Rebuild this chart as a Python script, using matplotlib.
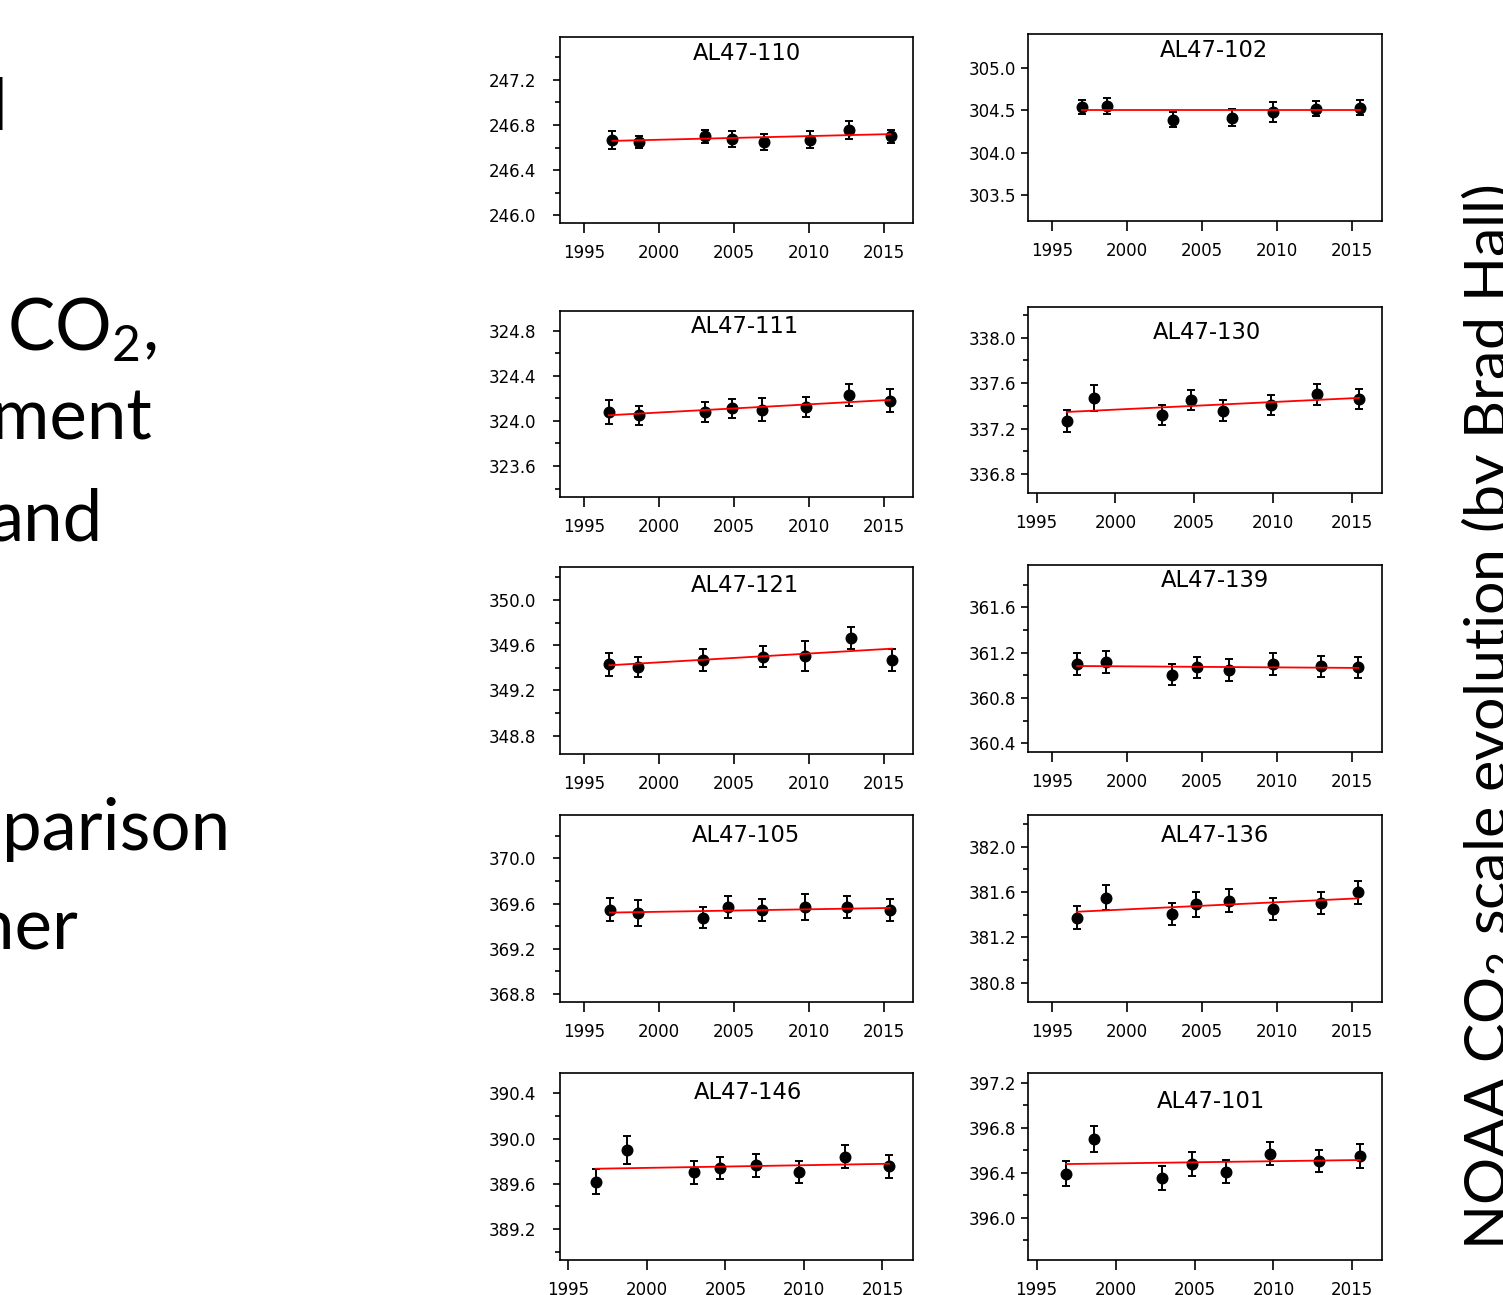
import matplotlib
matplotlib.use("Agg")
import matplotlib.pyplot as plt
from matplotlib.ticker import MultipleLocator, FormatStrFormatter

W, H = 1503, 1295
plt.rcParams["mathtext.fontset"] = "custom"
plt.rcParams["mathtext.rm"] = "Lato"

# ---- data: sample dates, CO2 values, uncertainties, fit line ends ----
names = ["AL47-110", "AL47-102", "AL47-111", "AL47-130", "AL47-121",
         "AL47-139", "AL47-105", "AL47-136", "AL47-146", "AL47-101"]

yr_110 = [1996.9, 1998.7, 2003.1, 2004.9, 2007.0, 2010.1, 2012.7, 2015.45]
co2_110 = [246.67, 246.65, 246.70, 246.68, 246.65, 246.67, 246.76, 246.70]
err_110 = [0.08, 0.05, 0.06, 0.07, 0.075, 0.075, 0.08, 0.06]
fit_110 = [246.66, 246.72]

yr_102 = [1997.0, 1998.7, 2003.1, 2007.0, 2009.75, 2012.6, 2015.5]
co2_102 = [304.54, 304.55, 304.39, 304.41, 304.48, 304.52, 304.53]
err_102 = [0.087, 0.09, 0.085, 0.10, 0.118, 0.088, 0.09]
fit_102 = [304.50, 304.50]

yr_111 = [1996.65, 1998.7, 2003.1, 2004.85, 2006.9, 2009.8, 2012.7, 2015.4]
co2_111 = [324.08, 324.05, 324.08, 324.11, 324.10, 324.12, 324.23, 324.18]
err_111 = [0.106, 0.084, 0.09, 0.083, 0.103, 0.089, 0.096, 0.099]
fit_111 = [324.05, 324.186]

yr_130 = [1996.91, 1998.66, 2002.98, 2004.78, 2006.85, 2009.86, 2012.78, 2015.47]
co2_130 = [337.27, 337.47, 337.32, 337.45, 337.355, 337.41, 337.50, 337.46]
err_130 = [0.097, 0.114, 0.09, 0.088, 0.092, 0.088, 0.091, 0.088]
fit_130 = [337.346, 337.47]

yr_121 = [1996.69, 1998.62, 2002.95, 2006.91, 2009.75, 2012.8, 2015.55]
co2_121 = [349.43, 349.41, 349.47, 349.50, 349.505, 349.665, 349.47]
err_121 = [0.105, 0.09, 0.097, 0.09, 0.133, 0.096, 0.096]
fit_121 = [349.423, 349.57]

yr_139 = [1996.7, 1998.59, 2003.02, 2004.64, 2006.81, 2009.74, 2012.91, 2015.4]
co2_139 = [361.10, 361.12, 361.005, 361.07, 361.045, 361.10, 361.08, 361.07]
err_139 = [0.094, 0.097, 0.093, 0.093, 0.096, 0.093, 0.093, 0.093]
fit_139 = [361.082, 361.065]

yr_105 = [1996.73, 1998.62, 2002.95, 2004.62, 2006.85, 2009.75, 2012.57, 2015.4]
co2_105 = [369.547, 369.517, 369.476, 369.57, 369.547, 369.57, 369.57, 369.54]
err_105 = [0.103, 0.118, 0.096, 0.096, 0.097, 0.112, 0.10, 0.097]
fit_105 = [369.52, 369.561]

yr_136 = [1996.66, 1998.59, 2002.98, 2004.6, 2006.81, 2009.74, 2012.91, 2015.36]
co2_136 = [381.373, 381.55, 381.403, 381.494, 381.523, 381.447, 381.505, 381.597]
err_136 = [0.10, 0.112, 0.096, 0.11, 0.10, 0.096, 0.099, 0.10]
fit_136 = [381.426, 381.544]

yr_146 = [1996.74, 1998.75, 2002.99, 2004.69, 2006.92, 2009.69, 2012.64, 2015.42]
co2_146 = [389.62, 389.90, 389.70, 389.74, 389.762, 389.703, 389.84, 389.753]
err_146 = [0.108, 0.125, 0.102, 0.10, 0.099, 0.099, 0.103, 0.099]
fit_146 = [389.733, 389.777]

yr_101 = [1996.86, 1998.65, 2002.92, 2004.82, 2006.98, 2009.79, 2012.89, 2015.48]
co2_101 = [396.39, 396.70, 396.35, 396.475, 396.41, 396.57, 396.504, 396.55]
err_101 = [0.111, 0.113, 0.108, 0.105, 0.104, 0.10, 0.102, 0.104]
fit_101 = [396.477, 396.513]

years = [yr_110, yr_102, yr_111, yr_130, yr_121, yr_139, yr_105, yr_136, yr_146, yr_101]
values = [co2_110, co2_102, co2_111, co2_130, co2_121, co2_139, co2_105, co2_136, co2_146, co2_101]
errors = [err_110, err_102, err_111, err_130, err_121, err_139, err_105, err_136, err_146, err_101]
fits = [fit_110, fit_102, fit_111, fit_130, fit_121, fit_139, fit_105, fit_136, fit_146, fit_101]

year_ticks = [1995, 2000, 2005, 2010, 2015]

# ---- layout (pixel boxes: x0, y0, x1, y1), axis ranges, title spot ----
boxes = [(560, 37, 913, 223.3), (1028.3, 34, 1381.7, 220.7),
         (560, 310.7, 913, 496.7), (1028.3, 306.7, 1381.7, 492.7),
         (560, 566.7, 913, 754), (1028.3, 565, 1381.7, 751.7),
         (560, 815, 913, 1001.7), (1028.3, 815, 1381.7, 1001.7),
         (560, 1073.3, 913, 1260), (1028.3, 1073.3, 1381.7, 1260)]
xlims = [(1993.4, 2016.95), (1993.44, 2016.96), (1993.4, 2016.95), (1994.47, 2016.9),
         (1993.4, 2016.95), (1993.44, 2016.96), (1993.4, 2016.95), (1993.44, 2016.96),
         (1994.47, 2016.95), (1994.47, 2016.86)]
ylims = [(245.93, 247.58), (303.197, 305.40), (323.328, 324.977), (336.635, 338.273),
         (348.638, 350.295), (360.326, 361.973), (368.732, 370.383), (380.632, 382.28),
         (388.926, 390.577), (395.624, 397.284)]
title_xy = [(0.53, 0.914), (0.525, 0.914), (0.524, 0.914), (0.505, 0.862),
            (0.524, 0.902), (0.527, 0.916), (0.527, 0.888), (0.527, 0.888),
            (0.533, 0.896), (0.518, 0.848)]

fig = plt.figure(figsize=(W / 100, H / 100), dpi=100)

for i, name in enumerate(names):
    x0, y0, x1, y1 = boxes[i]
    ax = fig.add_axes([x0 / W, 1 - y1 / H, (x1 - x0) / W, (y1 - y0) / H])
    yrs, vals, errs, fit = years[i], values[i], errors[i], fits[i]
    ax.errorbar(yrs, vals, yerr=errs, fmt="o", color="black", ms=7.6,
                elinewidth=1.4, capsize=2.6, capthick=1.4, zorder=3)
    ax.plot([yrs[0], yrs[-1]], fit, color="red", lw=1.3, zorder=4)
    ax.set_xlim(*xlims[i])
    ax.set_ylim(*ylims[i])
    ax.set_xticks(year_ticks)
    if name == "AL47-102":
        ax.yaxis.set_major_locator(MultipleLocator(0.5))
    else:
        ax.yaxis.set_major_locator(MultipleLocator(0.4))
        ax.yaxis.set_minor_locator(MultipleLocator(0.2))
    ax.yaxis.set_major_formatter(FormatStrFormatter("%.1f"))
    left_col = (i % 2 == 0)
    ax.tick_params(axis="x", direction="out", length=7, width=1.2, pad=8,
                   labelsize=12)
    ax.tick_params(axis="y", which="major", direction="out", length=5, width=1.2,
                   pad=12 if left_col else 3.5, labelsize=12)
    ax.tick_params(axis="y", which="minor", direction="out", length=3.5, width=1.2)
    for s in ax.spines.values():
        s.set_linewidth(1.2)
    ax.text(title_xy[i][0], title_xy[i][1], name, transform=ax.transAxes,
            ha="center", va="center", fontsize=16.3)

# ---- slide text around the chart block ----
slide_font = "Lato"
fs = 51
fig.text(8 / W, 1 - 130 / H, "l", ha="right", va="baseline",
         fontsize=fs, family=slide_font)
fig.text(157 / W, 1 - 350 / H, r" CO$_\mathregular{2}$,", ha="right", va="baseline",
         fontsize=fs, family=slide_font)
fig.text(152 / W, 1 - 440 / H, "ment", ha="right", va="baseline",
         fontsize=fs, family=slide_font)
fig.text(103 / W, 1 - 540 / H, "and", ha="right", va="baseline",
         fontsize=fs, family=slide_font)
fig.text(230 / W, 1 - 850 / H, "parison", ha="right", va="baseline",
         fontsize=fs, family=slide_font)
fig.text(78 / W, 1 - 950 / H, "ner", ha="right", va="baseline",
         fontsize=fs, family=slide_font)

fig.text(1507 / W, 1 - 1250 / H, r"NOAA CO$_\mathregular{2}$ scale evolution (by Brad Hall)",
         rotation=90, rotation_mode="anchor", ha="left", va="baseline",
         fontsize=42.5, family=slide_font)

fig.savefig("out.png", dpi=100)
